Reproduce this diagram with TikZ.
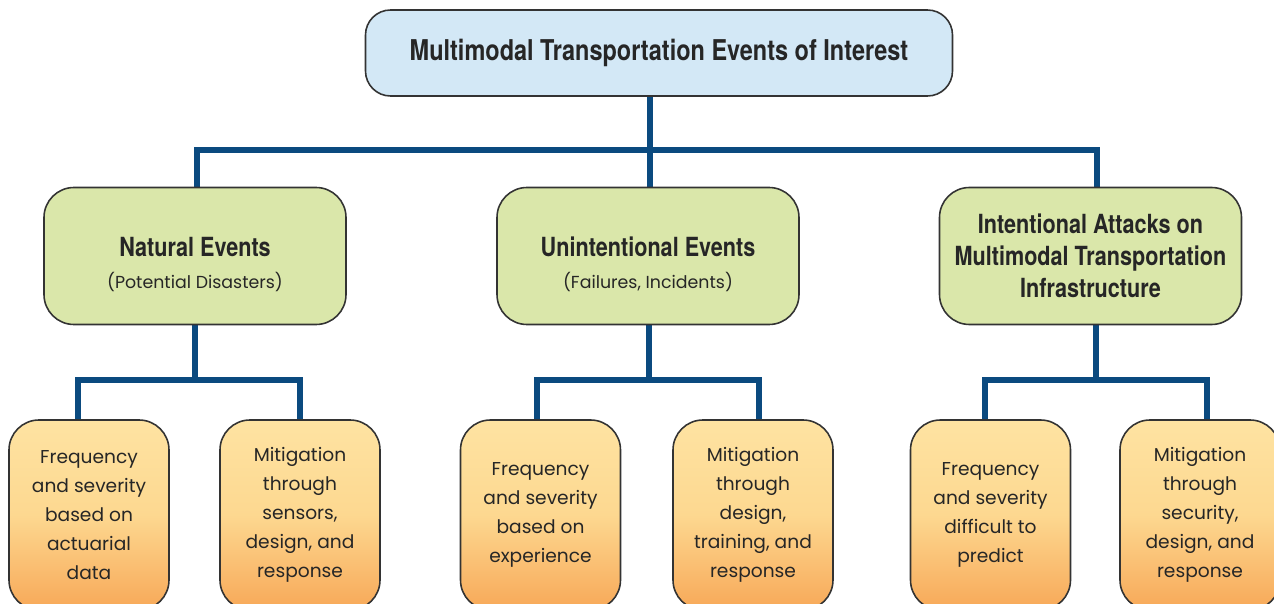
\documentclass[tikz,border=0pt]{standalone}
\usepackage{fontspec}
\setmainfont{Poppins}
\newfontfamily\headfont[FakeStretch=0.82]{TeX Gyre Heros}
\usepackage{tikz}
\pgfdeclarelayer{bg}
\pgfsetlayers{bg,main}
\definecolor{linkblue}{HTML}{0B4A7F}
\definecolor{boxgray}{HTML}{333333}
\definecolor{topblue}{HTML}{D3E8F6}
\definecolor{catgreen}{HTML}{DAE7AA}
\definecolor{leaftop}{HTML}{FEE3A2}
\definecolor{leafmid}{HTML}{FDD890}
\definecolor{leafbot}{HTML}{F7A858}
\newcommand{\subline}[1]{{\normalfont\fontsize{9.9}{18.2}\selectfont #1}}

\begin{document}
\begin{tikzpicture}[
        top/.style={draw=boxgray, line width=0.9pt, fill=topblue, rounded corners=0.5cm,
                minimum width=11.74cm, minimum height=1.72cm, text=black!85,
                font=\headfont\bfseries\fontsize{16.3}{18}\selectfont},
        cat/.style={draw=boxgray, line width=0.9pt, fill=catgreen, rounded corners=0.6cm,
                minimum width=6.04cm, minimum height=2.74cm, align=center, text=black!85,
                font=\headfont\bfseries\fontsize{15}{18.2}\selectfont},
        lowered/.style={text height=1.38cm},
        leaf/.style={draw=boxgray, line width=0.9pt, top color=leaftop, bottom color=leafbot,
                middle color=leafmid, rounded corners=0.6cm,
                minimum width=3.2cm, minimum height=3.8cm, align=center, text=black!85,
                font=\fontsize{10.6}{16.5}\selectfont},
        link/.style={draw=linkblue, line width=3.7pt}]
        \useasboundingbox (0,0) rectangle (25.48,12.06);
        % top level
        \node (t0) [top] at (13.18cm, 11.0cm) {Multimodal Transportation Events of Interest};
        % event classes
        \node (c1) [cat, lowered] at (3.9cm, 6.94cm) {Natural Events\\\subline{(Potential Disasters)}};
        \node (c2) [cat, lowered] at (12.96cm, 6.94cm) {Unintentional Events\\\subline{(Failures, Incidents)}};
        \node (c3) [cat] at (21.81cm, 6.94cm) {Intentional Attacks on\\Multimodal Transportation\\Infrastructure};
        % leaves
        \node (l1) [leaf] at (1.78cm, 1.76cm) {Frequency\\and severity\\based on\\actuarial\\data};
        \node (m1) [leaf] at (6.0cm, 1.76cm) {Mitigation\\through\\sensors,\\design, and\\response};
        \node (l2) [leaf] at (10.81cm, 1.76cm) {Frequency\\and severity\\based on\\experience};
        \node (m2) [leaf] at (15.06cm, 1.76cm) {Mitigation\\through\\design,\\training, and\\response};
        \node (l3) [leaf] at (19.81cm, 1.76cm) {Frequency\\and severity\\difficult to\\predict};
        \node (m3) [leaf] at (24.0cm, 1.76cm) {Mitigation\\through\\security,\\design, and\\response};
        \coordinate (j0) at (13.0cm, 9.06cm);
        \coordinate (j1) at (3.9cm, 4.46cm);
        \coordinate (j2) at (12.98cm, 4.46cm);
        \coordinate (j3) at (21.92cm, 4.46cm);
        \begin{pgfonlayer}{bg}
                \draw [link] (t0.south -| j0) -- (j0);
                \draw [link] ([xshift=0.04cm]c1.north) |- (j0) -| ([xshift=0.13cm]c3.north);
                \draw [link] (j0) -- (c2.north -| j0);
                \draw [link] (c1.south) -- (j1);
                \draw [link] ([xshift=-0.22cm]l1.north) |- (j1) -| (m1.north);
                \draw [link] (c2.south -| j2) -- (j2);
                \draw [link] ([xshift=-0.07cm]l2.north) |- (j2) -| ([xshift=0.12cm]m2.north);
                \draw [link] (c3.south -| j3) -- (j3);
                \draw [link] ([xshift=-0.11cm]l3.north) |- (j3) -| ([xshift=0.14cm]m3.north);
        \end{pgfonlayer}
\end{tikzpicture}
\end{document}
